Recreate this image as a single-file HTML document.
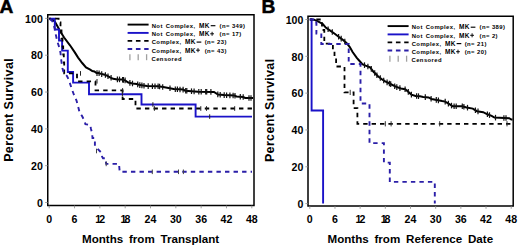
<!DOCTYPE html>
<html><head><meta charset="utf-8"><style>
html,body{margin:0;padding:0;background:#fff;}
svg{display:block;font-family:"Liberation Sans", sans-serif;}
</style></head><body>
<svg width="520" height="248" viewBox="0 0 520 248">
<rect width="520" height="248" fill="#fff"/>
<rect x="47.75" y="14.75" width="206.25" height="190.75" fill="none" stroke="#000" stroke-width="1.5"/>
<line x1="45.15" y1="202.50" x2="47.75" y2="202.50" stroke="#888" stroke-width="0.8"/>
<text x="42.8" y="206.75" font-size="10.6" text-anchor="end" font-weight="bold" fill="#000" >0</text>
<line x1="45.15" y1="165.68" x2="47.75" y2="165.68" stroke="#888" stroke-width="0.8"/>
<text x="42.8" y="169.93" font-size="10.6" text-anchor="end" font-weight="bold" fill="#000" >20</text>
<line x1="45.15" y1="128.86" x2="47.75" y2="128.86" stroke="#888" stroke-width="0.8"/>
<text x="42.8" y="133.11" font-size="10.6" text-anchor="end" font-weight="bold" fill="#000" >40</text>
<line x1="45.15" y1="92.04" x2="47.75" y2="92.04" stroke="#888" stroke-width="0.8"/>
<text x="42.8" y="96.29" font-size="10.6" text-anchor="end" font-weight="bold" fill="#000" >60</text>
<line x1="45.15" y1="55.22" x2="47.75" y2="55.22" stroke="#888" stroke-width="0.8"/>
<text x="42.8" y="59.47" font-size="10.6" text-anchor="end" font-weight="bold" fill="#000" >80</text>
<line x1="45.15" y1="18.40" x2="47.75" y2="18.40" stroke="#888" stroke-width="0.8"/>
<text x="42.8" y="22.65" font-size="10.6" text-anchor="end" font-weight="bold" fill="#000" >100</text>
<line x1="49.20" y1="205.5" x2="49.20" y2="208.3" stroke="#888" stroke-width="0.8"/>
<text x="49.20" y="222.80" font-size="10.6" text-anchor="middle" font-weight="bold" fill="#000" >0</text>
<line x1="74.53" y1="205.5" x2="74.53" y2="208.3" stroke="#888" stroke-width="0.8"/>
<text x="74.53" y="222.80" font-size="10.6" text-anchor="middle" font-weight="bold" fill="#000" >6</text>
<line x1="99.85" y1="205.5" x2="99.85" y2="208.3" stroke="#888" stroke-width="0.8"/>
<text x="100.15" y="222.80" font-size="10.6" text-anchor="middle" font-weight="bold" fill="#000" >1<tspan dx="-2.0">2</tspan></text>
<line x1="125.18" y1="205.5" x2="125.18" y2="208.3" stroke="#888" stroke-width="0.8"/>
<text x="125.48" y="222.80" font-size="10.6" text-anchor="middle" font-weight="bold" fill="#000" >1<tspan dx="-2.0">8</tspan></text>
<line x1="150.50" y1="205.5" x2="150.50" y2="208.3" stroke="#888" stroke-width="0.8"/>
<text x="150.50" y="222.80" font-size="10.6" text-anchor="middle" font-weight="bold" fill="#000" >24</text>
<line x1="175.83" y1="205.5" x2="175.83" y2="208.3" stroke="#888" stroke-width="0.8"/>
<text x="175.83" y="222.80" font-size="10.6" text-anchor="middle" font-weight="bold" fill="#000" >30</text>
<line x1="201.15" y1="205.5" x2="201.15" y2="208.3" stroke="#888" stroke-width="0.8"/>
<text x="201.15" y="222.80" font-size="10.6" text-anchor="middle" font-weight="bold" fill="#000" >36</text>
<line x1="226.48" y1="205.5" x2="226.48" y2="208.3" stroke="#888" stroke-width="0.8"/>
<text x="226.48" y="222.80" font-size="10.6" text-anchor="middle" font-weight="bold" fill="#000" >42</text>
<line x1="251.80" y1="205.5" x2="251.80" y2="208.3" stroke="#888" stroke-width="0.8"/>
<text x="251.80" y="222.80" font-size="10.6" text-anchor="middle" font-weight="bold" fill="#000" >48</text>
<rect x="308.0" y="16.25" width="205.20000000000005" height="189.75" fill="none" stroke="#000" stroke-width="1.5"/>
<line x1="305.4" y1="203.60" x2="308.0" y2="203.60" stroke="#888" stroke-width="0.8"/>
<text x="303.4" y="207.85" font-size="10.6" text-anchor="end" font-weight="bold" fill="#000" >0</text>
<line x1="305.4" y1="166.78" x2="308.0" y2="166.78" stroke="#888" stroke-width="0.8"/>
<text x="303.4" y="171.03" font-size="10.6" text-anchor="end" font-weight="bold" fill="#000" >20</text>
<line x1="305.4" y1="129.96" x2="308.0" y2="129.96" stroke="#888" stroke-width="0.8"/>
<text x="303.4" y="134.21" font-size="10.6" text-anchor="end" font-weight="bold" fill="#000" >40</text>
<line x1="305.4" y1="93.14" x2="308.0" y2="93.14" stroke="#888" stroke-width="0.8"/>
<text x="303.4" y="97.39" font-size="10.6" text-anchor="end" font-weight="bold" fill="#000" >60</text>
<line x1="305.4" y1="56.32" x2="308.0" y2="56.32" stroke="#888" stroke-width="0.8"/>
<text x="303.4" y="60.57" font-size="10.6" text-anchor="end" font-weight="bold" fill="#000" >80</text>
<line x1="305.4" y1="19.50" x2="308.0" y2="19.50" stroke="#888" stroke-width="0.8"/>
<text x="303.4" y="23.75" font-size="10.6" text-anchor="end" font-weight="bold" fill="#000" >100</text>
<line x1="309.80" y1="206.0" x2="309.80" y2="208.8" stroke="#888" stroke-width="0.8"/>
<text x="309.80" y="223.30" font-size="10.6" text-anchor="middle" font-weight="bold" fill="#000" >0</text>
<line x1="334.98" y1="206.0" x2="334.98" y2="208.8" stroke="#888" stroke-width="0.8"/>
<text x="334.98" y="223.30" font-size="10.6" text-anchor="middle" font-weight="bold" fill="#000" >6</text>
<line x1="360.15" y1="206.0" x2="360.15" y2="208.8" stroke="#888" stroke-width="0.8"/>
<text x="360.45" y="223.30" font-size="10.6" text-anchor="middle" font-weight="bold" fill="#000" >1<tspan dx="-2.0">2</tspan></text>
<line x1="385.32" y1="206.0" x2="385.32" y2="208.8" stroke="#888" stroke-width="0.8"/>
<text x="385.62" y="223.30" font-size="10.6" text-anchor="middle" font-weight="bold" fill="#000" >1<tspan dx="-2.0">8</tspan></text>
<line x1="410.50" y1="206.0" x2="410.50" y2="208.8" stroke="#888" stroke-width="0.8"/>
<text x="410.50" y="223.30" font-size="10.6" text-anchor="middle" font-weight="bold" fill="#000" >24</text>
<line x1="435.68" y1="206.0" x2="435.68" y2="208.8" stroke="#888" stroke-width="0.8"/>
<text x="435.68" y="223.30" font-size="10.6" text-anchor="middle" font-weight="bold" fill="#000" >30</text>
<line x1="460.85" y1="206.0" x2="460.85" y2="208.8" stroke="#888" stroke-width="0.8"/>
<text x="460.85" y="223.30" font-size="10.6" text-anchor="middle" font-weight="bold" fill="#000" >36</text>
<line x1="486.02" y1="206.0" x2="486.02" y2="208.8" stroke="#888" stroke-width="0.8"/>
<text x="486.02" y="223.30" font-size="10.6" text-anchor="middle" font-weight="bold" fill="#000" >42</text>
<line x1="511.20" y1="206.0" x2="511.20" y2="208.8" stroke="#888" stroke-width="0.8"/>
<text x="511.20" y="223.30" font-size="10.6" text-anchor="middle" font-weight="bold" fill="#000" >48</text>
<text x="-0.5" y="13.4" font-size="19.2" text-anchor="start" font-weight="bold" fill="#000" stroke="#000" stroke-width="0.5">A</text>
<text x="261.4" y="13.3" font-size="19.2" text-anchor="start" font-weight="bold" fill="#000" stroke="#000" stroke-width="0.5">B</text>
<text x="150.6" y="243.2" font-size="11.6" text-anchor="middle" font-weight="bold" fill="#000" word-spacing="2.6">Months from Transplant</text>
<text x="410.3" y="243.2" font-size="11.6" text-anchor="middle" font-weight="bold" fill="#000" word-spacing="2.6">Months from Reference Date</text>
<text x="0" y="0" font-size="12.5" font-weight="bold" letter-spacing="0.37" text-anchor="middle" transform="translate(13.3,109.9) rotate(-90)">Percent Survival</text>
<text x="0" y="0" font-size="12.5" font-weight="bold" letter-spacing="0.35" text-anchor="middle" transform="translate(273.9,110.3) rotate(-90)">Percent Survival</text>
<polyline points="127.60,24.60 148.60,24.60" fill="none" stroke="#000" stroke-width="1.9" stroke-linejoin="miter" stroke-linecap="butt"/>
<polyline points="127.60,32.90 148.60,32.90" fill="none" stroke="#1a12c8" stroke-width="1.9" stroke-linejoin="miter" stroke-linecap="butt"/>
<polyline points="127.60,40.90 148.60,40.90" fill="none" stroke="#000" stroke-width="1.8" stroke-dasharray="4.6 3.7" stroke-linejoin="miter" stroke-linecap="butt"/>
<polyline points="127.60,49.00 148.60,49.00" fill="none" stroke="#2b1fa8" stroke-width="1.8" stroke-dasharray="4.6 3.7" stroke-linejoin="miter" stroke-linecap="butt"/>
<line x1="129.90" y1="54.20" x2="129.90" y2="60.20" stroke="#a0a0a0" stroke-width="1.3"/>
<line x1="138.20" y1="54.20" x2="138.20" y2="60.20" stroke="#a0a0a0" stroke-width="1.3"/>
<line x1="146.60" y1="54.20" x2="146.60" y2="60.20" stroke="#a0a0a0" stroke-width="1.3"/>
<text x="151.7" y="27.9" font-size="5.9" text-anchor="start" font-weight="bold" fill="#000" letter-spacing="0.42">Not</text>
<text x="165.7" y="27.9" font-size="5.9" text-anchor="start" font-weight="bold" fill="#000" letter-spacing="0.42">Complex,</text>
<text x="199.1" y="27.9" font-size="6.5" text-anchor="start" font-weight="bold" fill="#000" letter-spacing="0.35">MK</text>
<line x1="210.70" y1="25.70" x2="215.40" y2="25.70" stroke="#000" stroke-width="1.15"/>
<text x="219.6" y="27.9" font-size="5.9" text-anchor="start" font-weight="bold" fill="#000" letter-spacing="0.42">(n= 349)</text>
<text x="151.7" y="36.1" font-size="5.9" text-anchor="start" font-weight="bold" fill="#000" letter-spacing="0.42">Not</text>
<text x="165.7" y="36.1" font-size="5.9" text-anchor="start" font-weight="bold" fill="#000" letter-spacing="0.42">Complex,</text>
<text x="199.1" y="36.1" font-size="6.5" text-anchor="start" font-weight="bold" fill="#000" letter-spacing="0.35">MK</text>
<line x1="210.20" y1="33.80" x2="214.00" y2="33.80" stroke="#000" stroke-width="0.95"/>
<line x1="212.10" y1="31.80" x2="212.10" y2="35.80" stroke="#000" stroke-width="0.95"/>
<text x="219.6" y="36.1" font-size="5.9" text-anchor="start" font-weight="bold" fill="#000" letter-spacing="0.42">(n= 17)</text>
<text x="151.7" y="44.3" font-size="5.9" text-anchor="start" font-weight="bold" fill="#000" letter-spacing="0.42">Complex,</text>
<text x="185.0" y="44.3" font-size="6.5" text-anchor="start" font-weight="bold" fill="#000" letter-spacing="0.35">MK</text>
<line x1="196.60" y1="42.10" x2="201.30" y2="42.10" stroke="#000" stroke-width="1.15"/>
<text x="204.7" y="44.3" font-size="5.9" text-anchor="start" font-weight="bold" fill="#000" letter-spacing="0.42">(n= 23)</text>
<text x="151.7" y="52.5" font-size="5.9" text-anchor="start" font-weight="bold" fill="#000" letter-spacing="0.42">Complex,</text>
<text x="185.0" y="52.5" font-size="6.5" text-anchor="start" font-weight="bold" fill="#000" letter-spacing="0.35">MK</text>
<line x1="196.10" y1="50.20" x2="199.90" y2="50.20" stroke="#000" stroke-width="0.95"/>
<line x1="198.00" y1="48.20" x2="198.00" y2="52.20" stroke="#000" stroke-width="0.95"/>
<text x="204.7" y="52.5" font-size="5.9" text-anchor="start" font-weight="bold" fill="#000" letter-spacing="0.42">(n= 43)</text>
<text x="151.5" y="60.7" font-size="5.9" text-anchor="start" font-weight="bold" fill="#000" letter-spacing="0.42">Censored</text>
<polyline points="387.60,26.10 408.60,26.10" fill="none" stroke="#000" stroke-width="1.9" stroke-linejoin="miter" stroke-linecap="butt"/>
<polyline points="387.60,34.40 408.60,34.40" fill="none" stroke="#1a12c8" stroke-width="1.9" stroke-linejoin="miter" stroke-linecap="butt"/>
<polyline points="387.60,42.40 408.60,42.40" fill="none" stroke="#000" stroke-width="1.8" stroke-dasharray="4.6 3.7" stroke-linejoin="miter" stroke-linecap="butt"/>
<polyline points="387.60,50.50 408.60,50.50" fill="none" stroke="#2b1fa8" stroke-width="1.8" stroke-dasharray="4.6 3.7" stroke-linejoin="miter" stroke-linecap="butt"/>
<line x1="389.90" y1="55.70" x2="389.90" y2="61.70" stroke="#a0a0a0" stroke-width="1.3"/>
<line x1="398.20" y1="55.70" x2="398.20" y2="61.70" stroke="#a0a0a0" stroke-width="1.3"/>
<line x1="406.60" y1="55.70" x2="406.60" y2="61.70" stroke="#a0a0a0" stroke-width="1.3"/>
<text x="411.7" y="29.4" font-size="5.9" text-anchor="start" font-weight="bold" fill="#000" letter-spacing="0.42">Not</text>
<text x="425.7" y="29.4" font-size="5.9" text-anchor="start" font-weight="bold" fill="#000" letter-spacing="0.42">Complex,</text>
<text x="459.09999999999997" y="29.4" font-size="6.5" text-anchor="start" font-weight="bold" fill="#000" letter-spacing="0.35">MK</text>
<line x1="470.70" y1="27.20" x2="475.40" y2="27.20" stroke="#000" stroke-width="1.15"/>
<text x="479.6" y="29.4" font-size="5.9" text-anchor="start" font-weight="bold" fill="#000" letter-spacing="0.42">(n= 389)</text>
<text x="411.7" y="37.6" font-size="5.9" text-anchor="start" font-weight="bold" fill="#000" letter-spacing="0.42">Not</text>
<text x="425.7" y="37.6" font-size="5.9" text-anchor="start" font-weight="bold" fill="#000" letter-spacing="0.42">Complex,</text>
<text x="459.09999999999997" y="37.6" font-size="6.5" text-anchor="start" font-weight="bold" fill="#000" letter-spacing="0.35">MK</text>
<line x1="470.20" y1="35.30" x2="474.00" y2="35.30" stroke="#000" stroke-width="0.95"/>
<line x1="472.10" y1="33.30" x2="472.10" y2="37.30" stroke="#000" stroke-width="0.95"/>
<text x="479.6" y="37.6" font-size="5.9" text-anchor="start" font-weight="bold" fill="#000" letter-spacing="0.42">(n= 2)</text>
<text x="411.7" y="45.8" font-size="5.9" text-anchor="start" font-weight="bold" fill="#000" letter-spacing="0.42">Complex,</text>
<text x="445.0" y="45.8" font-size="6.5" text-anchor="start" font-weight="bold" fill="#000" letter-spacing="0.35">MK</text>
<line x1="456.60" y1="43.60" x2="461.30" y2="43.60" stroke="#000" stroke-width="1.15"/>
<text x="464.7" y="45.8" font-size="5.9" text-anchor="start" font-weight="bold" fill="#000" letter-spacing="0.42">(n= 21)</text>
<text x="411.7" y="54.0" font-size="5.9" text-anchor="start" font-weight="bold" fill="#000" letter-spacing="0.42">Complex,</text>
<text x="445.0" y="54.0" font-size="6.5" text-anchor="start" font-weight="bold" fill="#000" letter-spacing="0.35">MK</text>
<line x1="456.10" y1="51.70" x2="459.90" y2="51.70" stroke="#000" stroke-width="0.95"/>
<line x1="458.00" y1="49.70" x2="458.00" y2="53.70" stroke="#000" stroke-width="0.95"/>
<text x="464.7" y="54.0" font-size="5.9" text-anchor="start" font-weight="bold" fill="#000" letter-spacing="0.42">(n= 20)</text>
<text x="411.5" y="62.2" font-size="5.9" text-anchor="start" font-weight="bold" fill="#000" letter-spacing="0.42">Censored</text>
<polyline points="49.20,18.70 52.00,19.30 55.00,21.80 57.30,26.00 60.50,31.80 64.10,37.50 70.00,45.30 74.80,52.40 78.10,57.60 82.20,63.00 86.00,67.50 90.20,69.60 92.30,71.10 94.40,71.50 96.50,73.10 98.60,73.10 101.70,74.10 104.80,74.70 106.90,75.70 110.10,77.30 113.20,78.80 117.40,79.40 121.60,79.40 125.10,80.40 128.30,82.50 132.50,83.50 136.70,84.00 139.80,85.10 147.10,86.10 158.00,86.30 163.20,87.00 168.50,88.00 173.70,89.10 183.10,89.60 185.20,90.70 198.00,91.70 214.00,91.90 218.00,94.50 223.90,95.10 234.50,95.60 236.50,96.50 243.20,97.00 245.20,98.00 253.00,98.00" fill="none" stroke="#000" stroke-width="2.0" stroke-linejoin="miter" stroke-linecap="butt"/>
<polyline points="49.20,18.70 54.80,18.70 54.80,29.50 59.00,29.50 59.00,40.50 62.10,40.50 62.10,50.60 67.80,50.60 67.80,72.00 73.10,72.00 73.10,82.60 89.00,82.60 89.00,94.20 141.50,94.20 141.50,104.50 195.60,104.50 195.60,116.60 252.00,116.60 252.00,116.60" fill="none" stroke="#1a12c8" stroke-width="1.9" stroke-linejoin="miter" stroke-linecap="butt"/>
<polyline points="49.20,18.70 58.60,18.70 58.60,22.50 60.50,22.50 60.50,30.50 61.50,30.50 61.50,38.50 62.50,38.50 62.50,46.50 63.20,46.50 63.20,54.50 63.80,54.50 63.80,62.50 64.20,62.50 64.20,73.40 77.00,73.40 77.00,81.30 95.50,81.30 95.50,90.40 122.60,90.40 122.60,99.00 135.50,99.00 135.50,108.50 252.00,108.50 252.00,108.50" fill="none" stroke="#000" stroke-width="1.8" stroke-dasharray="4.4 4.15" stroke-dashoffset="2.55" stroke-linejoin="miter" stroke-linecap="butt"/>
<polyline points="49.20,18.70 52.50,21.30 53.30,23.70 54.90,29.30 55.70,34.20 57.30,41.40 58.90,46.30 60.50,52.70 61.20,60.00 62.40,68.00 63.60,72.50 67.00,76.00 68.80,80.00 71.40,87.70 74.00,95.00 76.50,100.50 78.10,106.50 79.70,112.90 82.10,116.10 84.50,121.00 85.40,124.20 90.20,125.00 91.00,129.00 92.10,133.20 92.50,138.00 94.90,138.00 94.90,146.10 101.30,152.60 102.10,156.60 103.00,158.20 105.40,158.20 106.20,163.90 119.00,163.90 119.70,171.80 252.00,171.80" fill="none" stroke="#2b1fa8" stroke-width="1.9" stroke-dasharray="4.4 4.15" stroke-dashoffset="7.92" stroke-linejoin="miter" stroke-linecap="butt"/>
<line x1="96.50" y1="148.70" x2="96.50" y2="153.30" stroke="#444" stroke-width="1.0"/>
<line x1="106.20" y1="161.60" x2="106.20" y2="166.20" stroke="#444" stroke-width="1.0"/>
<line x1="152.30" y1="169.50" x2="152.30" y2="174.10" stroke="#444" stroke-width="1.0"/>
<line x1="178.50" y1="169.50" x2="178.50" y2="174.10" stroke="#444" stroke-width="1.0"/>
<line x1="183.40" y1="169.50" x2="183.40" y2="174.10" stroke="#444" stroke-width="1.0"/>
<line x1="122.40" y1="91.90" x2="122.40" y2="96.50" stroke="#222" stroke-width="1.0"/>
<line x1="152.90" y1="102.20" x2="152.90" y2="106.80" stroke="#222" stroke-width="1.0"/>
<line x1="209.70" y1="114.30" x2="209.70" y2="118.90" stroke="#222" stroke-width="1.0"/>
<line x1="80.50" y1="71.10" x2="80.50" y2="75.70" stroke="#222" stroke-width="1.0"/>
<line x1="97.00" y1="79.00" x2="97.00" y2="83.60" stroke="#222" stroke-width="1.0"/>
<line x1="122.60" y1="88.10" x2="122.60" y2="92.70" stroke="#222" stroke-width="1.0"/>
<line x1="154.40" y1="106.20" x2="154.40" y2="110.80" stroke="#222" stroke-width="1.0"/>
<line x1="200.80" y1="106.20" x2="200.80" y2="110.80" stroke="#222" stroke-width="1.0"/>
<line x1="206.50" y1="106.20" x2="206.50" y2="110.80" stroke="#222" stroke-width="1.0"/>
<line x1="234.70" y1="106.20" x2="234.70" y2="110.80" stroke="#222" stroke-width="1.0"/>
<line x1="97.00" y1="70.30" x2="97.00" y2="75.90" stroke="#111" stroke-width="1.2"/>
<line x1="99.10" y1="70.46" x2="99.10" y2="76.06" stroke="#111" stroke-width="1.2"/>
<line x1="101.70" y1="71.30" x2="101.70" y2="76.90" stroke="#111" stroke-width="1.2"/>
<line x1="105.40" y1="72.19" x2="105.40" y2="77.79" stroke="#111" stroke-width="1.2"/>
<line x1="108.00" y1="73.45" x2="108.00" y2="79.05" stroke="#111" stroke-width="1.2"/>
<line x1="111.10" y1="74.98" x2="111.10" y2="80.58" stroke="#111" stroke-width="1.2"/>
<line x1="117.40" y1="76.60" x2="117.40" y2="82.20" stroke="#111" stroke-width="1.2"/>
<line x1="119.50" y1="76.60" x2="119.50" y2="82.20" stroke="#111" stroke-width="1.2"/>
<line x1="122.60" y1="76.89" x2="122.60" y2="82.49" stroke="#111" stroke-width="1.2"/>
<line x1="123.40" y1="77.11" x2="123.40" y2="82.71" stroke="#111" stroke-width="1.2"/>
<line x1="125.10" y1="77.60" x2="125.10" y2="83.20" stroke="#111" stroke-width="1.2"/>
<line x1="129.90" y1="80.08" x2="129.90" y2="85.68" stroke="#111" stroke-width="1.2"/>
<line x1="132.50" y1="80.70" x2="132.50" y2="86.30" stroke="#111" stroke-width="1.2"/>
<line x1="137.70" y1="81.55" x2="137.70" y2="87.15" stroke="#111" stroke-width="1.2"/>
<line x1="139.80" y1="82.30" x2="139.80" y2="87.90" stroke="#111" stroke-width="1.2"/>
<line x1="141.90" y1="82.59" x2="141.90" y2="88.19" stroke="#111" stroke-width="1.2"/>
<line x1="144.00" y1="82.88" x2="144.00" y2="88.48" stroke="#111" stroke-width="1.2"/>
<line x1="148.20" y1="83.32" x2="148.20" y2="88.92" stroke="#111" stroke-width="1.2"/>
<line x1="152.40" y1="83.40" x2="152.40" y2="89.00" stroke="#111" stroke-width="1.2"/>
<line x1="155.00" y1="83.44" x2="155.00" y2="89.04" stroke="#111" stroke-width="1.2"/>
<line x1="158.10" y1="83.51" x2="158.10" y2="89.11" stroke="#111" stroke-width="1.2"/>
<line x1="159.60" y1="83.72" x2="159.60" y2="89.32" stroke="#111" stroke-width="1.2"/>
<line x1="162.70" y1="84.13" x2="162.70" y2="89.73" stroke="#111" stroke-width="1.2"/>
<line x1="170.00" y1="85.52" x2="170.00" y2="91.12" stroke="#111" stroke-width="1.2"/>
<line x1="175.30" y1="86.39" x2="175.30" y2="91.99" stroke="#111" stroke-width="1.2"/>
<line x1="177.40" y1="86.50" x2="177.40" y2="92.10" stroke="#111" stroke-width="1.2"/>
<line x1="180.00" y1="86.64" x2="180.00" y2="92.24" stroke="#111" stroke-width="1.2"/>
<line x1="183.10" y1="86.80" x2="183.10" y2="92.40" stroke="#111" stroke-width="1.2"/>
<line x1="185.70" y1="87.94" x2="185.70" y2="93.54" stroke="#111" stroke-width="1.2"/>
<line x1="186.80" y1="88.03" x2="186.80" y2="93.62" stroke="#111" stroke-width="1.2"/>
<line x1="191.50" y1="88.39" x2="191.50" y2="93.99" stroke="#111" stroke-width="1.2"/>
<line x1="194.10" y1="88.60" x2="194.10" y2="94.20" stroke="#111" stroke-width="1.2"/>
<line x1="198.80" y1="88.91" x2="198.80" y2="94.51" stroke="#111" stroke-width="1.2"/>
<line x1="201.20" y1="88.94" x2="201.20" y2="94.54" stroke="#111" stroke-width="1.2"/>
<line x1="205.70" y1="89.00" x2="205.70" y2="94.60" stroke="#111" stroke-width="1.2"/>
<line x1="206.70" y1="89.01" x2="206.70" y2="94.61" stroke="#111" stroke-width="1.2"/>
<line x1="210.90" y1="89.06" x2="210.90" y2="94.66" stroke="#111" stroke-width="1.2"/>
<line x1="217.80" y1="91.57" x2="217.80" y2="97.17" stroke="#111" stroke-width="1.2"/>
<line x1="220.20" y1="91.92" x2="220.20" y2="97.52" stroke="#111" stroke-width="1.2"/>
<line x1="224.20" y1="92.31" x2="224.20" y2="97.91" stroke="#111" stroke-width="1.2"/>
<line x1="226.60" y1="92.43" x2="226.60" y2="98.03" stroke="#111" stroke-width="1.2"/>
<line x1="229.90" y1="92.58" x2="229.90" y2="98.18" stroke="#111" stroke-width="1.2"/>
<line x1="233.10" y1="92.73" x2="233.10" y2="98.33" stroke="#111" stroke-width="1.2"/>
<line x1="235.00" y1="93.02" x2="235.00" y2="98.62" stroke="#111" stroke-width="1.2"/>
<line x1="240.30" y1="93.98" x2="240.30" y2="99.58" stroke="#111" stroke-width="1.2"/>
<line x1="243.20" y1="94.20" x2="243.20" y2="99.80" stroke="#111" stroke-width="1.2"/>
<line x1="249.00" y1="95.20" x2="249.00" y2="100.80" stroke="#111" stroke-width="1.2"/>
<line x1="251.00" y1="95.20" x2="251.00" y2="100.80" stroke="#111" stroke-width="1.2"/>
<polyline points="310.50,19.50 314.00,19.70 318.90,21.80 322.80,24.00 326.00,27.80 330.20,30.60 334.40,33.50 338.60,36.70 342.50,39.60 346.50,42.90 349.80,47.00 352.60,52.00 356.80,57.80 360.00,61.50 362.30,64.20 365.60,65.60 370.10,67.30 373.50,71.80 378.00,76.30 382.50,79.70 385.20,81.40 390.50,84.00 395.70,86.70 400.90,88.50 405.20,89.30 408.50,92.00 411.40,94.60 415.60,95.90 420.00,96.30 423.20,96.90 428.50,97.40 431.60,99.00 436.80,100.00 442.10,101.10 445.20,101.60 449.40,104.20 452.60,106.30 462.30,106.30 466.50,107.50 472.80,108.60 476.90,111.20 483.20,112.20 487.40,114.30 491.60,115.90 494.50,117.60 509.20,118.20 511.30,119.50 512.50,119.50" fill="none" stroke="#000" stroke-width="2.0" stroke-linejoin="miter" stroke-linecap="butt"/>
<polyline points="309.80,19.50 311.60,19.50 311.60,110.50 323.10,110.50 323.10,203.60" fill="none" stroke="#1a12c8" stroke-width="1.9" stroke-linejoin="miter" stroke-linecap="butt"/>
<polyline points="309.80,19.50 322.00,19.50 322.00,30.00 324.30,30.00 324.30,43.60 332.90,43.60 332.90,50.50 334.50,50.50 334.50,57.50 336.10,57.50 336.10,66.50 344.50,66.50 344.50,92.40 353.60,92.40 353.60,108.10 357.40,108.10 357.40,123.80 511.50,123.80 511.50,123.80" fill="none" stroke="#000" stroke-width="1.8" stroke-dasharray="4.4 4.0" stroke-dashoffset="1.90" stroke-linejoin="miter" stroke-linecap="butt"/>
<polyline points="309.80,19.50 313.20,19.50 313.20,22.50 316.40,22.50 316.40,33.50 321.30,33.50 321.30,44.00 348.70,44.00 348.70,64.00 360.50,64.00 360.50,103.50 369.50,103.50 369.50,143.10 383.90,143.10 383.90,162.60 389.80,162.60 389.80,181.90 434.80,181.90 434.80,203.60" fill="none" stroke="#2b1fa8" stroke-width="1.9" stroke-dasharray="4.4 4.1" stroke-linejoin="miter" stroke-linecap="butt"/>
<line x1="328.10" y1="26.40" x2="328.10" y2="32.00" stroke="#111" stroke-width="1.2"/>
<line x1="332.30" y1="29.25" x2="332.30" y2="34.85" stroke="#111" stroke-width="1.2"/>
<line x1="338.60" y1="33.90" x2="338.60" y2="39.50" stroke="#111" stroke-width="1.2"/>
<line x1="341.20" y1="35.83" x2="341.20" y2="41.43" stroke="#111" stroke-width="1.2"/>
<line x1="344.80" y1="38.70" x2="344.80" y2="44.30" stroke="#111" stroke-width="1.2"/>
<line x1="364.50" y1="62.33" x2="364.50" y2="67.93" stroke="#111" stroke-width="1.2"/>
<line x1="367.90" y1="63.67" x2="367.90" y2="69.27" stroke="#111" stroke-width="1.2"/>
<line x1="371.30" y1="66.09" x2="371.30" y2="71.69" stroke="#111" stroke-width="1.2"/>
<line x1="374.70" y1="70.20" x2="374.70" y2="75.80" stroke="#111" stroke-width="1.2"/>
<line x1="376.90" y1="72.40" x2="376.90" y2="78.00" stroke="#111" stroke-width="1.2"/>
<line x1="380.30" y1="75.24" x2="380.30" y2="80.84" stroke="#111" stroke-width="1.2"/>
<line x1="383.70" y1="77.66" x2="383.70" y2="83.26" stroke="#111" stroke-width="1.2"/>
<line x1="387.10" y1="79.53" x2="387.10" y2="85.13" stroke="#111" stroke-width="1.2"/>
<line x1="389.40" y1="80.66" x2="389.40" y2="86.26" stroke="#111" stroke-width="1.2"/>
<line x1="390.70" y1="81.30" x2="390.70" y2="86.90" stroke="#111" stroke-width="1.2"/>
<line x1="394.70" y1="83.38" x2="394.70" y2="88.98" stroke="#111" stroke-width="1.2"/>
<line x1="396.80" y1="84.28" x2="396.80" y2="89.88" stroke="#111" stroke-width="1.2"/>
<line x1="399.90" y1="85.35" x2="399.90" y2="90.95" stroke="#111" stroke-width="1.2"/>
<line x1="405.10" y1="86.48" x2="405.10" y2="92.08" stroke="#111" stroke-width="1.2"/>
<line x1="408.30" y1="89.04" x2="408.30" y2="94.64" stroke="#111" stroke-width="1.2"/>
<line x1="411.40" y1="91.80" x2="411.40" y2="97.40" stroke="#111" stroke-width="1.2"/>
<line x1="416.60" y1="93.19" x2="416.60" y2="98.79" stroke="#111" stroke-width="1.2"/>
<line x1="418.50" y1="93.36" x2="418.50" y2="98.96" stroke="#111" stroke-width="1.2"/>
<line x1="425.30" y1="94.30" x2="425.30" y2="99.90" stroke="#111" stroke-width="1.2"/>
<line x1="431.10" y1="95.94" x2="431.10" y2="101.54" stroke="#111" stroke-width="1.2"/>
<line x1="436.30" y1="97.10" x2="436.30" y2="102.70" stroke="#111" stroke-width="1.2"/>
<line x1="438.40" y1="97.53" x2="438.40" y2="103.13" stroke="#111" stroke-width="1.2"/>
<line x1="445.20" y1="98.80" x2="445.20" y2="104.40" stroke="#111" stroke-width="1.2"/>
<line x1="448.40" y1="100.78" x2="448.40" y2="106.38" stroke="#111" stroke-width="1.2"/>
<line x1="451.50" y1="102.78" x2="451.50" y2="108.38" stroke="#111" stroke-width="1.2"/>
<line x1="454.10" y1="103.50" x2="454.10" y2="109.10" stroke="#111" stroke-width="1.2"/>
<line x1="456.20" y1="103.50" x2="456.20" y2="109.10" stroke="#111" stroke-width="1.2"/>
<line x1="462.30" y1="103.50" x2="462.30" y2="109.10" stroke="#111" stroke-width="1.2"/>
<line x1="463.90" y1="103.96" x2="463.90" y2="109.56" stroke="#111" stroke-width="1.2"/>
<line x1="467.50" y1="104.87" x2="467.50" y2="110.47" stroke="#111" stroke-width="1.2"/>
<line x1="475.40" y1="107.45" x2="475.40" y2="113.05" stroke="#111" stroke-width="1.2"/>
<line x1="478.00" y1="108.57" x2="478.00" y2="114.17" stroke="#111" stroke-width="1.2"/>
<line x1="487.40" y1="111.50" x2="487.40" y2="117.10" stroke="#111" stroke-width="1.2"/>
<line x1="489.50" y1="112.30" x2="489.50" y2="117.90" stroke="#111" stroke-width="1.2"/>
<line x1="495.50" y1="114.84" x2="495.50" y2="120.44" stroke="#111" stroke-width="1.2"/>
<line x1="503.90" y1="115.18" x2="503.90" y2="120.78" stroke="#111" stroke-width="1.2"/>
<line x1="506.00" y1="115.27" x2="506.00" y2="120.87" stroke="#111" stroke-width="1.2"/>
<line x1="350.20" y1="89.80" x2="350.20" y2="95.00" stroke="#333" stroke-width="1.0"/>
<line x1="385.30" y1="121.20" x2="385.30" y2="126.40" stroke="#333" stroke-width="1.0"/>
<line x1="391.10" y1="121.20" x2="391.10" y2="126.40" stroke="#333" stroke-width="1.0"/>
<line x1="439.70" y1="121.20" x2="439.70" y2="126.40" stroke="#333" stroke-width="1.0"/>
<line x1="507.00" y1="121.20" x2="507.00" y2="126.40" stroke="#333" stroke-width="1.0"/>
</svg>
</body></html>
